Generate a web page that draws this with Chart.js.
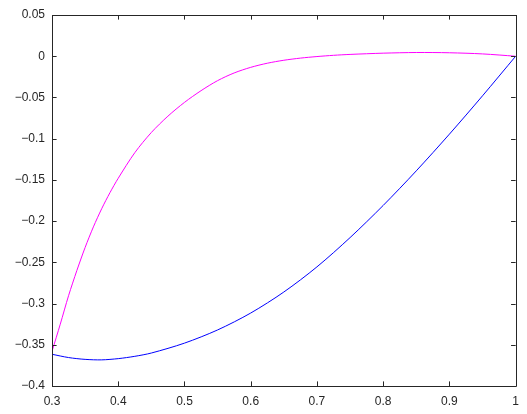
<!DOCTYPE html>
<html>
<head>
<meta charset="utf-8">
<script src="https://cdn.jsdelivr.net/npm/chart.js@4.4.1/dist/chart.umd.min.js"></script>
<style>
  html, body { margin: 0; padding: 0; background: #ffffff; }
  #wrap { width: 527px; height: 414px; position: relative; }
</style>
</head>
<body>
<div id="wrap"><canvas id="c"></canvas></div>
<script>
// ---- data ----
const magentaX = [0.300, 0.3125, 0.325, 0.3375, 0.350, 0.3625, 0.375, 0.3875, 0.400, 0.425, 0.450, 0.475, 0.500, 0.525, 0.550, 0.575, 0.600, 0.625, 0.650, 0.675, 0.700, 0.725, 0.750, 0.800, 0.850, 0.900, 0.950, 1.000];
const magentaY = [-0.358, -0.325, -0.2905, -0.2600, -0.2320, -0.2070, -0.1850, -0.1655, -0.1480, -0.1170, -0.0925, -0.0727, -0.0560, -0.0418, -0.0296, -0.0203, -0.0135, -0.0085, -0.0049, -0.0023, -0.0004, 0.0011, 0.0022, 0.0037, 0.0045, 0.0042, 0.0028, 0.0];

const blueX = [0.300, 0.325, 0.350, 0.375, 0.400, 0.425, 0.450, 0.500, 0.550, 0.600, 0.650, 0.700, 0.750, 0.800, 0.850, 0.900, 0.950, 1.000];
const blueY = [-0.3615, -0.3655, -0.3677, -0.3683, -0.3668, -0.3640, -0.3600, -0.3480, -0.3320, -0.3115, -0.2860, -0.2555, -0.2200, -0.1810, -0.1390, -0.0945, -0.0480, 0.0];

const xTicks = [0.3, 0.4, 0.5, 0.6, 0.7, 0.8, 0.9, 1];
const yTicks = [-0.4, -0.35, -0.3, -0.25, -0.2, -0.15, -0.1, -0.05, 0, 0.05];

const AXIS_COLOR = '#262626';
const FONT = { family: '"Liberation Sans", Arial, Helvetica, sans-serif', size: 12 };

function fmt(v) {
  const r = Math.round(v * 1000) / 1000;
  return String(r).replace('-', '\u2212');
}

const boxPlugin = {
  id: 'matlabBox',
  afterDraw(chart) {
    const { ctx, chartArea: a, scales } = chart;
    const tl = 4.6;
    ctx.save();
    ctx.strokeStyle = AXIS_COLOR;
    ctx.lineWidth = 1;
    ctx.beginPath();
    scales.x.ticks.forEach(t => {
      const px = Math.round(scales.x.getPixelForValue(t.value)) + 0.5;
      ctx.moveTo(px, a.bottom); ctx.lineTo(px, a.bottom - tl);
      ctx.moveTo(px, a.top); ctx.lineTo(px, a.top + tl);
    });
    scales.y.ticks.forEach(t => {
      const py = Math.round(scales.y.getPixelForValue(t.value)) + 0.5;
      ctx.moveTo(a.left, py); ctx.lineTo(a.left + tl, py);
      ctx.moveTo(a.right, py); ctx.lineTo(a.right - tl, py);
    });
    ctx.stroke();
    ctx.beginPath();
    ctx.rect(Math.round(a.left) + 0.5, Math.round(a.top) + 0.5,
             Math.round(a.right - a.left), Math.round(a.bottom - a.top));
    ctx.stroke();
    ctx.restore();
  }
};

new Chart(document.getElementById('c'), {
  type: 'line',
  data: {
    datasets: [
      {
        label: 'magenta',
        data: magentaX.map((x, i) => ({ x: x, y: magentaY[i] })),
        borderColor: '#ff00ff',
        borderWidth: 1,
        pointRadius: 0,
        fill: false,
        tension: 0.3
      },
      {
        label: 'blue',
        data: blueX.map((x, i) => ({ x: x, y: blueY[i] })),
        borderColor: '#0000ff',
        borderWidth: 1,
        pointRadius: 0,
        fill: false,
        tension: 0.3
      }
    ]
  },
  options: {
    responsive: true,
    maintainAspectRatio: false,
    animation: false,
    devicePixelRatio: 1,
    layout: { padding: { left: 0, right: 10, top: 15, bottom: 0 } },
    plugins: { legend: { display: false }, tooltip: { enabled: false } },
    scales: {
      x: {
        type: 'linear',
        min: 0.3,
        max: 1,
        afterBuildTicks(scale) { scale.ticks = xTicks.map(v => ({ value: v })); },
        afterFit(scale) { scale.height = 28; },
        grid: { display: true, drawOnChartArea: false, drawTicks: false },
        border: { display: false },
        ticks: { color: AXIS_COLOR, font: FONT, padding: 8, maxRotation: 0, autoSkip: false, callback: v => fmt(v) }
      },
      y: {
        type: 'linear',
        min: -0.4,
        max: 0.05,
        afterBuildTicks(scale) { scale.ticks = yTicks.map(v => ({ value: v })); },
        afterFit(scale) { scale.width = 52; },
        grid: { display: true, drawOnChartArea: false, drawTicks: false },
        border: { display: false },
        ticks: { color: AXIS_COLOR, font: FONT, padding: 7, autoSkip: false, callback: v => fmt(v) }
      }
    }
  },
  plugins: [boxPlugin]
});
</script>
</body>
</html>
